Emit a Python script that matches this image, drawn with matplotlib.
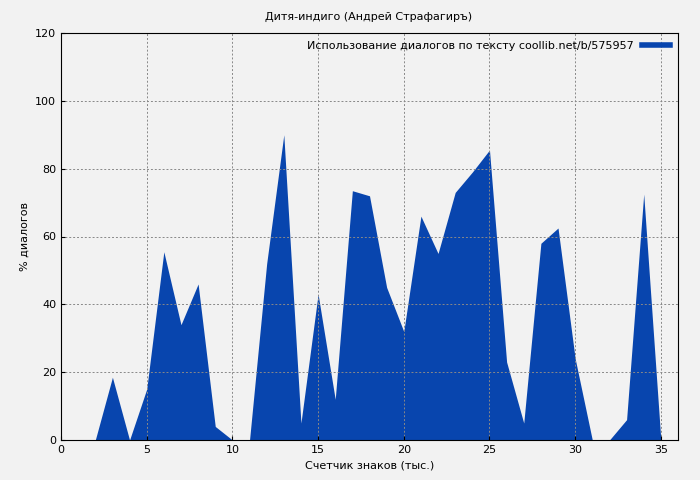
import matplotlib
matplotlib.use("Agg")
import matplotlib.pyplot as plt
from matplotlib.lines import Line2D

x = list(range(0, 36))
y = [0, 0, 0, 18.5, 0, 15, 55.5, 34, 46, 4, 0, 0, 52, 90, 5, 43, 12, 73.5, 72, 45,
     32, 66, 55, 73, 79, 85.5, 23, 5, 58, 62.5, 24, 0, 0, 6, 72.5, 0]
xticks = [0, 5, 10, 15, 20, 25, 30, 35]
yticks = [0, 20, 40, 60, 80, 100, 120]

color = "#0845ae"
fig = plt.figure(figsize=(7, 4.8), dpi=100, facecolor="#f2f2f2")
ax = fig.add_axes([61/700, 40/480, 617/700, 407/480])
ax.set_facecolor("#f2f2f2")
ax.fill_between(x, y, 0, color=color, linewidth=0)
ax.set_xlim(0, 36)
ax.set_ylim(0, 120)
ax.set_xticks(xticks)
ax.set_yticks(yticks)
ax.grid(True, linestyle=(0, (2, 2)), color="#888888", linewidth=0.7)
ax.tick_params(labelsize=8, direction="in", length=3)
ax.set_xlabel("Счетчик знаков (тыс.)", fontsize=8)
ax.set_ylabel("% диалогов", fontsize=8)
fig.text(0.527, 0.965, "Дитя-индиго (Андрей Страфагиръ)", ha="center", va="center", fontsize=8)
leg = ax.legend([Line2D([0], [0], color=color, linewidth=4)],
                ["Использование диалогов по тексту coollib.net/b/575957"],
                loc="upper right", fontsize=8, frameon=False, markerfirst=False,
                handlelength=2.5, borderaxespad=0.3)
fig.savefig("out.png", dpi=100, facecolor=fig.get_facecolor())
